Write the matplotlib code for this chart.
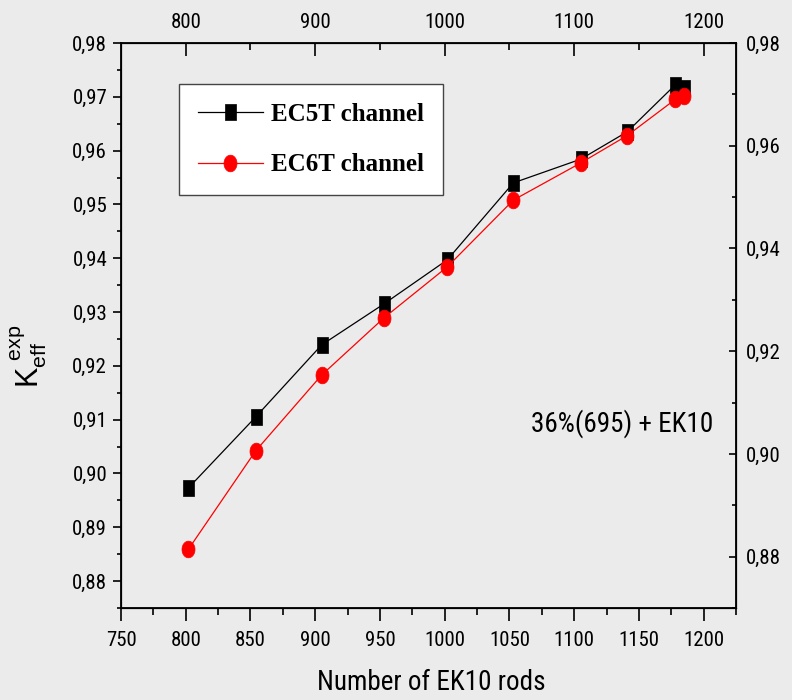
import matplotlib
matplotlib.use("Agg")
import matplotlib.pyplot as plt
from matplotlib import font_manager
from matplotlib.path import Path
from matplotlib.ticker import FixedLocator, MultipleLocator, FuncFormatter
import numpy as np

# ---- data ----
rods_ec5t = [802, 854, 905, 953, 1002, 1053, 1105, 1141, 1178, 1185]
keff_ec5t = [0.8973, 0.9105, 0.9239, 0.9315, 0.9397, 0.9540, 0.9584, 0.9635, 0.9722, 0.9716]
rods_ec6t = [802, 854, 905, 953, 1002, 1053, 1105, 1141, 1178, 1185]
keff_ec6t = [0.8859, 0.9042, 0.9183, 0.9289, 0.9384, 0.9508, 0.9577, 0.9628, 0.9695, 0.9702]
series_labels = ["EC5T channel", "EC6T channel"]
annotation = "36%(695) + EK10"
x_label = "Number of EK10 rods"
bottom_ticks = [750, 800, 850, 900, 950, 1000, 1050, 1100, 1150, 1200]
top_ticks = [800, 900, 1000, 1100, 1200]
left_ticks = [0.88, 0.89, 0.90, 0.91, 0.92, 0.93, 0.94, 0.95, 0.96, 0.97, 0.98]
right_ticks = [0.88, 0.90, 0.92, 0.94, 0.96, 0.98]

# pick a condensed sans face when one is installed
names = sorted({f.name for f in font_manager.fontManager.ttflist})
narrow = "Liberation Sans"
for cand in ["Liberation Sans Narrow", "Roboto Condensed", "Open Sans Condensed",
             "DejaVu Sans Condensed", "Noto Sans Condensed"]:
    if cand in names:
        narrow = cand
        break
narrow_is_condensed = narrow != "Liberation Sans"
serif = "Liberation Serif"

tick_size = 15 if narrow_is_condensed else 13.5
big_size = 19.5 if narrow_is_condensed else 17

BG = "#ebebeb"
fig = plt.figure(figsize=(7.92, 7.00), dpi=100, facecolor=BG)
ax = fig.add_axes([0.1528, 0.1314, 0.7765, 0.8072])
ax.set_facecolor(BG)

# tall markers: narrow rectangle and ellipse
sq = Path([(-0.72, -1), (0.72, -1), (0.72, 1), (-0.72, 1), (-0.72, -1)],
          [Path.MOVETO, Path.LINETO, Path.LINETO, Path.LINETO, Path.CLOSEPOLY])
t = np.linspace(0, 2 * np.pi, 60)
ell = Path(np.column_stack([0.78 * np.cos(t), np.sin(t)]))

ax.plot(rods_ec5t, keff_ec5t, color="black", lw=0.9, marker=sq, ms=11,
        mfc="black", mec="black", mew=0.5, label=series_labels[0], zorder=3)
ax.plot(rods_ec6t, keff_ec6t, color="red", lw=0.9, marker=ell, ms=12,
        mfc="red", mec="red", mew=0.5, label=series_labels[1], zorder=4)

ax.set_xlim(750, 1225)
ax.set_ylim(0.875, 0.98)

comma = FuncFormatter(lambda v, p: f"{v:.2f}".replace(".", ","))

ax.xaxis.set_major_locator(FixedLocator(bottom_ticks))
ax.xaxis.set_minor_locator(MultipleLocator(25))
ax.yaxis.set_major_locator(FixedLocator(left_ticks))
ax.yaxis.set_minor_locator(MultipleLocator(0.005))
ax.yaxis.set_major_formatter(comma)
ax.tick_params(axis="x", which="major", direction="out", length=9.5, width=1.2, pad=7)
ax.tick_params(axis="x", which="minor", direction="out", length=5, width=1.2)
ax.tick_params(axis="y", which="major", direction="out", length=6, width=1.2, pad=4)
ax.tick_params(axis="y", which="minor", direction="out", length=3, width=1.2)
for lab in ax.get_xticklabels() + ax.get_yticklabels():
    lab.set_fontfamily(narrow)
    lab.set_fontsize(tick_size)
for s in ax.spines.values():
    s.set_linewidth(1.3)

# top axis
axt = ax.twiny()
axt.set_xlim(ax.get_xlim())
axt.xaxis.set_major_locator(FixedLocator(top_ticks))
axt.xaxis.set_minor_locator(FixedLocator([850, 950, 1050, 1150]))
axt.tick_params(axis="x", which="major", direction="in", length=9, width=1.2, pad=8)
axt.tick_params(axis="x", which="minor", direction="in", length=5, width=1.2)
for lab in axt.get_xticklabels():
    lab.set_fontfamily(narrow)
    lab.set_fontsize(tick_size)

# right axis
axr = ax.twinx()
axr.set_ylim(0.870, 0.98)
axr.yaxis.set_major_locator(FixedLocator(right_ticks))
axr.yaxis.set_minor_locator(MultipleLocator(0.01))
axr.yaxis.set_major_formatter(comma)
axr.tick_params(axis="y", which="major", direction="in", length=5, width=1.2, pad=7)
axr.tick_params(axis="y", which="minor", direction="in", length=3, width=1.2)
for lab in axr.get_yticklabels():
    lab.set_fontfamily(narrow)
    lab.set_fontsize(tick_size)

ax.set_xlabel(x_label, fontfamily=narrow, fontsize=big_size)
ax.xaxis.set_label_coords(0.504, -0.108)
ax.set_ylabel(r"$\mathregular{K_{eff}^{\ exp}}$", fontfamily="Liberation Sans",
              fontsize=22)
ax.yaxis.set_label_coords(-0.117, 0.445)

ax.text(0.815, 0.327, annotation, transform=ax.transAxes, fontfamily=narrow,
        fontsize=big_size, ha="center", va="center")

leg = ax.legend(loc="upper left", bbox_to_anchor=(0.094, 0.927), frameon=True,
                fancybox=False, edgecolor="#444444", facecolor="white",
                framealpha=1, handlelength=2.6, handletextpad=0.35,
                borderpad=0.75, borderaxespad=0, labelspacing=1.1,
                prop=dict(family=serif, weight="bold", size=18))
leg.get_frame().set_linewidth(1.0)
leg.set_zorder(10)

fig.savefig("out.png", dpi=100, facecolor=BG)
